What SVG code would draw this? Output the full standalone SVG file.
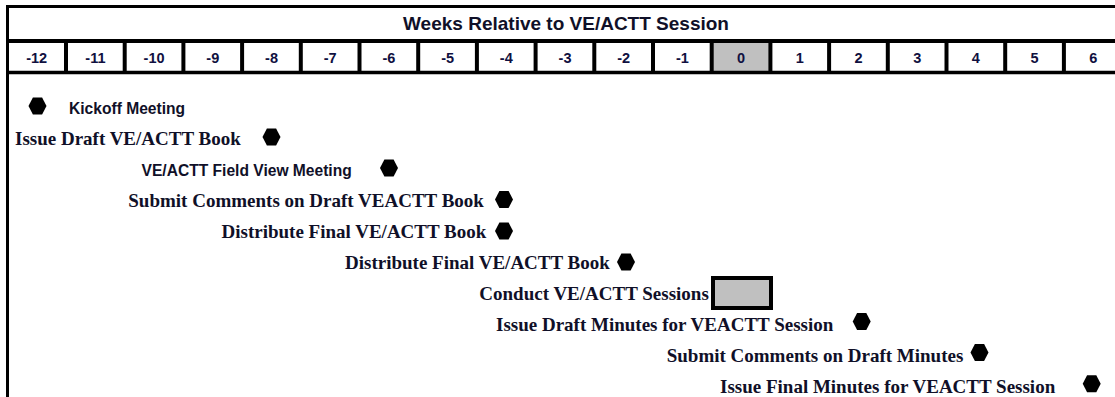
<svg xmlns="http://www.w3.org/2000/svg" width="1115" height="397" viewBox="0 0 1115 397">
<style>
.hdr{font-family:"Liberation Sans",Arial,sans-serif;font-weight:bold;font-size:19px;fill:#101028;text-anchor:middle}
.wk{font-family:"Liberation Sans",Arial,sans-serif;font-weight:bold;font-size:14.5px;fill:#101040;text-anchor:middle}
.sans{font-family:"Liberation Sans",Arial,sans-serif;font-weight:bold;font-size:15.6px;fill:#101028}
.serif{font-family:"Liberation Serif","Times New Roman",serif;font-weight:bold;font-size:19px;fill:#101028}
.hex{fill:#000}
.ln{stroke:#000;fill:none}
</style>
<defs>
<polygon id="hx" points="-9,0 -4.6,-8.5 4.6,-8.5 9,0 4.6,8.5 -4.6,8.5"/>
</defs>
<rect x="0" y="0" width="1115" height="397" fill="#fff"/>
<g id="timeline">
<rect x="711.7" y="41" width="58.7" height="31.5" fill="#c0c0c0"/>
<line class="ln" x1="6" y1="6.5" x2="1115" y2="6.5" stroke-width="3"/>
<line class="ln" x1="6" y1="41" x2="1115" y2="41" stroke-width="4"/>
<line class="ln" x1="6" y1="72.5" x2="1115" y2="72.5" stroke-width="3.5"/>
<line class="ln" x1="7.5" y1="5" x2="7.5" y2="397" stroke-width="3"/>
<g stroke="#000" stroke-width="4">
<line x1="66" y1="41" x2="66" y2="72.5"/>
<line x1="124.7" y1="41" x2="124.7" y2="72.5"/>
<line x1="183.4" y1="41" x2="183.4" y2="72.5"/>
<line x1="242.1" y1="41" x2="242.1" y2="72.5"/>
<line x1="300.8" y1="41" x2="300.8" y2="72.5"/>
<line x1="359.5" y1="41" x2="359.5" y2="72.5"/>
<line x1="418.2" y1="41" x2="418.2" y2="72.5"/>
<line x1="476.9" y1="41" x2="476.9" y2="72.5"/>
<line x1="535.6" y1="41" x2="535.6" y2="72.5"/>
<line x1="594.3" y1="41" x2="594.3" y2="72.5"/>
<line x1="653" y1="41" x2="653" y2="72.5"/>
<line x1="711.7" y1="41" x2="711.7" y2="72.5"/>
<line x1="770.4" y1="41" x2="770.4" y2="72.5"/>
<line x1="829.1" y1="41" x2="829.1" y2="72.5"/>
<line x1="887.8" y1="41" x2="887.8" y2="72.5"/>
<line x1="946.5" y1="41" x2="946.5" y2="72.5"/>
<line x1="1005.2" y1="41" x2="1005.2" y2="72.5"/>
<line x1="1063.9" y1="41" x2="1063.9" y2="72.5"/>
</g>
<text class="hdr" x="566" y="30">Weeks Relative to VE/ACTT Session</text>
<text class="wk" x="36.7" y="63">-12</text>
<text class="wk" x="95.4" y="63">-11</text>
<text class="wk" x="154.1" y="63">-10</text>
<text class="wk" x="212.8" y="63">-9</text>
<text class="wk" x="271.5" y="63">-8</text>
<text class="wk" x="330.2" y="63">-7</text>
<text class="wk" x="388.9" y="63">-6</text>
<text class="wk" x="447.6" y="63">-5</text>
<text class="wk" x="506.3" y="63">-4</text>
<text class="wk" x="565" y="63">-3</text>
<text class="wk" x="623.7" y="63">-2</text>
<text class="wk" x="682.4" y="63">-1</text>
<text class="wk" x="741.1" y="63">0</text>
<text class="wk" x="799.8" y="63">1</text>
<text class="wk" x="858.5" y="63">2</text>
<text class="wk" x="917.2" y="63">3</text>
<text class="wk" x="975.9" y="63">4</text>
<text class="wk" x="1034.6" y="63">5</text>
<text class="wk" x="1093.3" y="63">6</text>
</g>
<g id="connectors"></g>
<g id="n1"><use href="#hx" class="hex" x="37.5" y="106"/><text class="sans" x="69" y="113.5">Kickoff Meeting</text></g>
<g id="n2"><text class="serif" x="15" y="145">Issue Draft VE/ACTT Book</text><use href="#hx" class="hex" x="271.5" y="137"/></g>
<g id="n3"><text class="sans" x="141.5" y="175.5">VE/ACTT Field View Meeting</text><use href="#hx" class="hex" x="389" y="168"/></g>
<g id="n4"><text class="serif" x="128.3" y="207">Submit Comments on Draft VEACTT Book</text><use href="#hx" class="hex" x="504" y="199.5"/></g>
<g id="n5"><text class="serif" x="221.5" y="238">Distribute Final VE/ACTT Book</text><use href="#hx" class="hex" x="504" y="231"/></g>
<g id="n6"><text class="serif" x="345" y="269">Distribute Final VE/ACTT Book</text><use href="#hx" class="hex" x="626" y="262"/></g>
<g id="n7"><text class="serif" x="479.3" y="300">Conduct VE/ACTT Sessions</text><rect x="713" y="278" width="58" height="30" fill="#c0c0c0" stroke="#000" stroke-width="4"/></g>
<g id="n8"><text class="serif" x="496" y="331">Issue Draft Minutes for VEACTT Session</text><use href="#hx" class="hex" x="861.7" y="321.5"/></g>
<g id="n9"><text class="serif" x="666.7" y="362">Submit Comments on Draft Minutes</text><use href="#hx" class="hex" x="979.5" y="352.5"/></g>
<g id="n10"><text class="serif" x="720" y="393">Issue Final Minutes for VEACTT Session</text><use href="#hx" class="hex" x="1091.7" y="383.7"/></g>
</svg>
